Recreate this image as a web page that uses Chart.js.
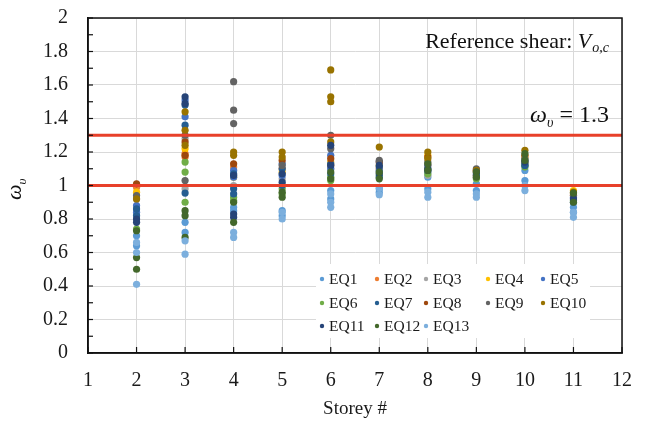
<!DOCTYPE html>
<html>
<head>
<meta charset="utf-8">
<script src="https://cdn.jsdelivr.net/npm/chart.js@4.4.0/dist/chart.umd.min.js"></script>
<style>
html,body{margin:0;padding:0;background:#fff;}
#wrap{width:645px;height:425px;position:relative;}
</style>
</head>
<body>
<div id="wrap"><canvas id="c" width="645" height="425"></canvas></div>
<script>
// ---- data (one sub-array per storey 2..11) ----
const storeys = [2, 3, 4, 5, 6, 7, 8, 9, 10, 11];
const xTickValues = [1, 2, 3, 4, 5, 6, 7, 8, 9, 10, 11, 12];
const yTickValues = [0, 0.2, 0.4, 0.6, 0.8, 1, 1.2, 1.4, 1.6, 1.8, 2];
const seriesLabels = ['EQ1','EQ2','EQ3','EQ4','EQ5','EQ6','EQ7','EQ8','EQ9','EQ10','EQ11','EQ12','EQ13'];
const seriesColors = ['#5B9BD5','#ED7D31','#A5A5A5','#FFC000','#4472C4','#70AD47','#255E91','#9E480E','#636363','#997300','#264478','#43682B','#7CAFDD'];
const limitValues = [1.0, 1.3];
const limitColor = '#E8402A';

const eq1  = [[0.70,0.64],[0.78,0.72],[0.87,0.85],[0.85,0.82],[0.97,0.92],[0.98,0.96],[1.05,0.98],[1.01,0.97],[1.09,1.03],[0.87,0.84]];
const eq2  = [[0.99],[1.19,1.17],[1.11],[1.10],[1.12],[1.10],[1.12],[1.06],[1.14],[0.94]];
const eq3  = [[0.92],[1.28,0.98],[1.00],[1.04],[1.10],[1.08],[1.06],[1.05],[1.12],[0.92]];
const eq4  = [[0.96],[1.22],[1.05],[1.08],[1.14],[1.12],[1.18],[1.08],[1.17],[0.97]];
const eq5  = [[0.88,0.84],[1.51,1.41],[1.09,1.05],[1.13,1.06],[1.18,1.10],[1.14,1.09],[1.12,1.08],[1.07],[1.15,1.12],[0.93]];
const eq6  = [[0.74],[1.14,1.08,0.90],[0.93,0.91],[0.98,0.95],[1.05,1.03],[1.06],[1.10,1.07],[1.04],[1.13,1.11],[0.91]];
const eq7  = [[0.86,0.82],[1.48,1.36,0.955],[1.07,0.98,0.95],[1.10,1.00],[1.13,1.07],[1.11,1.05],[1.09],[1.06],[1.12],[0.90]];
const eq8  = [[1.01],[1.26,1.18],[1.13],[1.15],[1.16],[1.14],[1.17],[1.09],[1.18],[0.95]];
const eq9  = [[0.94],[1.30,1.03],[1.62,1.45,1.37],[1.12],[1.30,1.22],[1.15],[1.14],[1.10],[1.16],[0.94]];
const eq10 = [[0.92],[1.44,1.33,1.24],[1.20,1.18],[1.20,1.17],[1.69,1.53,1.50,1.26],[1.23],[1.20,1.16],[1.09],[1.21],[0.96]];
const eq11 = [[0.80,0.78],[1.53,1.49],[1.06,0.83,0.81],[1.07,1.02],[1.24,1.12],[1.12,1.07],[1.10],[1.08],[1.14],[0.92]];
const eq12 = [[0.73,0.57,0.50],[0.85,0.82,0.69],[0.90,0.78],[0.96,0.93],[1.08,1.04],[1.08,1.04],[1.13,1.09],[1.08,1.05],[1.19,1.15],[0.955,0.90]];
const eq13 = [[0.66,0.60,0.41],[0.67,0.59],[0.72,0.69],[0.84,0.80],[0.95,0.90,0.87],[0.985,0.945],[0.96,0.93],[0.95,0.93],[1.00,0.97],[0.84,0.81]];

const seriesValues = [eq1,eq2,eq3,eq4,eq5,eq6,eq7,eq8,eq9,eq10,eq11,eq12,eq13];

// ---- build datasets ----
const SERIF = "'Liberation Serif','Times New Roman',serif";
const datasets = [];
limitValues.forEach(v => {
  datasets.push({
    type: 'line', label: 'limit', isLimit: true,
    data: [{x: xTickValues[0], y: v}, {x: xTickValues[xTickValues.length-1], y: v}],
    borderColor: limitColor, borderWidth: 3, pointRadius: 0, order: 0
  });
});
seriesValues.forEach((vals, i) => {
  const pts = [];
  vals.forEach((arr, j) => arr.forEach(y => pts.push({x: storeys[j], y: y})));
  datasets.push({
    type: 'scatter', label: seriesLabels[i], data: pts,
    backgroundColor: seriesColors[i], borderColor: seriesColors[i],
    pointRadius: 3.6, pointBorderWidth: 0, pointHoverRadius: 3.6,
    order: 20 - i
  });
});

function zeroPad(s) { s.paddingTop = 0; s.paddingBottom = 0; s.paddingLeft = 0; s.paddingRight = 0; }

// ---- plugins ----
const decorPlugin = {
  id: 'decor',
  afterDatasetsDraw(chart) {
    const ctx = chart.ctx, ca = chart.chartArea;
    const xs = chart.scales.x, ys = chart.scales.y;
    ctx.save();
    // frame
    ctx.strokeStyle = '#111'; ctx.lineWidth = 1.5;
    ctx.strokeRect(ca.left, ca.top, ca.right - ca.left, ca.bottom - ca.top);
    // inward ticks on y every 0.1
    ctx.lineWidth = 1.2;
    for (let k = 0; k <= 20; k++) {
      const py = ys.getPixelForValue(k / 10);
      ctx.beginPath(); ctx.moveTo(ca.left, py); ctx.lineTo(ca.left + 5, py); ctx.stroke();
    }
    // inward ticks on x
    xTickValues.forEach(v => {
      const px = xs.getPixelForValue(v);
      ctx.beginPath(); ctx.moveTo(px, ca.bottom); ctx.lineTo(px, ca.bottom - 6); ctx.stroke();
    });

    // annotation: Reference shear: V_o,c
    ctx.fillStyle = '#111';
    ctx.textBaseline = 'alphabetic';
    ctx.textAlign = 'left';
    const rightEdge = ca.right - 14;
    const f1 = '22px ' + SERIF, f1i = 'italic 22px ' + SERIF, f1s = 'italic 14px ' + SERIF;
    ctx.font = f1s; const wSub = ctx.measureText('o,c').width;
    ctx.font = f1i; const wV = ctx.measureText('V').width;
    ctx.font = f1; const wRef = ctx.measureText('Reference shear: ').width;
    let x0 = rightEdge - wSub - wV - wRef;
    const by1 = 48;
    ctx.font = f1; ctx.fillText('Reference shear: ', x0, by1);
    ctx.font = f1i; ctx.fillText('V', x0 + wRef, by1);
    ctx.font = f1s; ctx.fillText('o,c', x0 + wRef + wV + 1, by1 + 4);

    // annotation: ω_υ = 1.3
    const f2 = '24px ' + SERIF, f2i = 'italic 24px ' + SERIF, f2s = 'italic 14px ' + SERIF;
    ctx.font = f2; const wEq = ctx.measureText(' = 1.3').width;
    ctx.font = f2s; const wU = ctx.measureText('υ').width;
    ctx.font = f2i; const wW = ctx.measureText('ω').width;
    const by2 = ys.getPixelForValue(1.3) - 13;
    let x1 = rightEdge + 1 - wEq - wU - wW;
    ctx.font = f2i; ctx.fillText('ω', x1, by2);
    ctx.font = f2s; ctx.fillText('υ', x1 + wW, by2 + 5);
    ctx.font = f2; ctx.fillText(' = 1.3', x1 + wW + wU, by2);

    // y-axis title ω_υ (rotated)
    ctx.save();
    ctx.translate(21, 200);
    ctx.rotate(-Math.PI / 2);
    ctx.font = 'italic 22px ' + SERIF;
    const wOm = ctx.measureText('ω').width;
    ctx.fillText('ω', 0, 0);
    ctx.font = 'italic 13px ' + SERIF;
    ctx.fillText('υ', wOm, 5);
    ctx.restore();

    // custom legend inside plot
    const colX = [322, 377, 426, 488, 543];
    const rowY = [279, 303, 326];
    ctx.fillStyle = '#fff';
    ctx.fillRect(316, 264, 274, 74);
    ctx.font = '15.5px ' + SERIF;
    ctx.textBaseline = 'middle';
    const scatterSets = chart.data.datasets.filter(d => !d.isLimit);
    scatterSets.forEach((d, i) => {
      const cx = colX[i % 5], cy = rowY[Math.floor(i / 5)];
      ctx.fillStyle = d.backgroundColor;
      ctx.beginPath(); ctx.arc(cx, cy, 2.2, 0, Math.PI * 2); ctx.fill();
      ctx.fillStyle = '#1a1a1a';
      ctx.fillText(d.label, cx + 7, cy + 1);
    });
    ctx.restore();
  }
};

new Chart(document.getElementById('c'), {
  data: { datasets: datasets },
  options: {
    responsive: false,
    animation: false,
    devicePixelRatio: 1,
    layout: { padding: { left: 0, right: 23, top: 18, bottom: 0 } },
    plugins: { legend: { display: false }, tooltip: { enabled: false } },
    scales: {
      x: {
        type: 'linear', min: 1, max: 12,
        afterFit(s) { s.height = 72; zeroPad(s); },
        afterBuildTicks(s) { s.ticks = xTickValues.map(v => ({value: v})); },
        ticks: { stepSize: 1, color: '#1a1a1a', padding: 16, font: { family: SERIF, size: 20 } },
        grid: { color: '#D9D9D9', lineWidth: 1, drawTicks: false },
        border: { color: '#111', width: 1.5 },
        title: { display: true, text: 'Storey #', color: '#1a1a1a', font: { family: SERIF, size: 19 }, padding: { top: 0, bottom: 5 } }
      },
      y: {
        type: 'linear', min: 0, max: 2,
        afterFit(s) { s.width = 88; zeroPad(s); },
        afterBuildTicks(s) { s.ticks = yTickValues.map(v => ({value: v})); },
        ticks: { stepSize: 0.2, color: '#1a1a1a', padding: 20, font: { family: SERIF, size: 20 },
                 callback: v => String(Number(Number(v).toFixed(1))) },
        grid: { color: '#D9D9D9', lineWidth: 1, drawTicks: false },
        border: { color: '#111', width: 1.5 }
      }
    }
  },
  plugins: [decorPlugin]
});
</script>
</body>
</html>
